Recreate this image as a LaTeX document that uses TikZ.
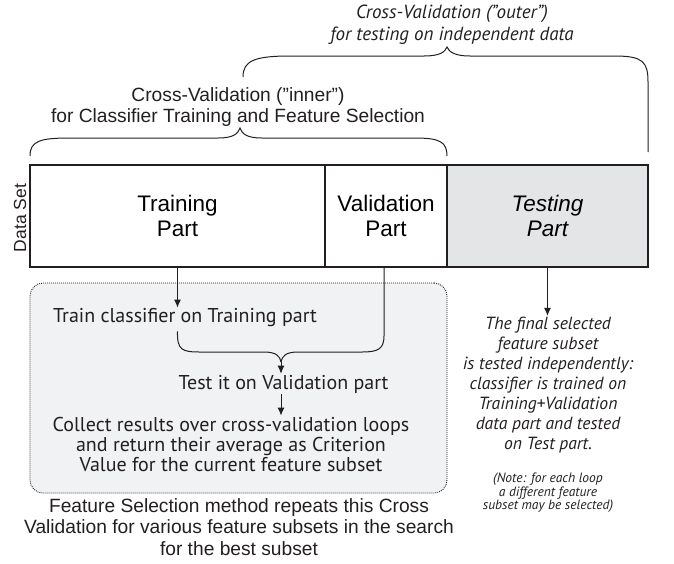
\documentclass[tikz,border=0pt]{standalone}
\usepackage{fontspec}
\setmainfont{Liberation Sans}
\newfontfamily\hum{PT Sans}
\usetikzlibrary{arrows.meta}
\definecolor{ink}{HTML}{231F20}
\definecolor{testfill}{HTML}{E4E5E7}
\definecolor{loopfill}{HTML}{F1F2F4}
\tikzset{
  x=1pt, y=-1pt,
  part/.style={draw=ink, line width=2.3pt, inner sep=0pt, minimum height=102pt,
    align=center, font=\fontsize{22.5}{25}\selectfont},
  arr/.style={draw=ink, line width=1pt, -{Latex[length=8pt,width=7pt]}},
  brace/.style={draw=ink, line width=1pt},
  plain/.style={draw=ink, line width=1pt},
  humtxt/.style={align=center, inner sep=1pt, text=ink, font=\hum\fontsize{20}{20}\selectfont},
  humit/.style={align=center, inner sep=1pt, text=ink, font=\hum\itshape\fontsize{17.6}{20}\selectfont},
  sanstxt/.style={align=center, inner sep=1pt, text=ink, font=\fontsize{19.2}{21.5}\selectfont},
  loopbox/.style={draw=ink, fill=loopfill, line width=0.9pt,
    dash pattern=on 0.9pt off 1.1pt, rounded corners=13pt,
    minimum width=417pt, minimum height=210pt, inner sep=0pt},
}
\begin{document}
\begin{tikzpicture}
\useasboundingbox (0,0) rectangle (674,563);

% the data set split into three parts
\node[part, minimum width=295pt] (train) at (177.5,216) {Training\\Part};
\node[part, minimum width=122pt] (val) at (386,216) {Validation\\Part};
\node[part, minimum width=201pt, fill=testfill, font=\itshape\fontsize{22.5}{25}\selectfont] (test) at (547.5,216) {Testing\\Part};
\node[rotate=90, inner sep=0pt, text=ink, font=\fontsize{17.5}{19}\selectfont] (dset) at (20,218) {Data Set};

% braces over the parts
\node[sanstxt] (innerLbl) at (238,107) {Cross-Validation (”inner”)\\for Classifier Training and Feature Selection};
\draw[brace] (30,156) .. controls (30,141) and (40,138) .. (70,138) -- (218,138)
  .. controls (233,138) and (238,134) .. (240,128)
  .. controls (242,134) and (247,138) .. (262,138) -- (415,138)
  .. controls (440,138) and (447,142) .. (447,156);

\node[humit, font=\hum\itshape\fontsize{19}{22}\selectfont] (outerLbl) at (452,25) {Cross-Validation (”outer”)\\for testing on independent data};
\draw[brace] (243,77) .. controls (243,61) and (254,56) .. (290,56) -- (424,56)
  .. controls (440,56) and (445,52) .. (447,47)
  .. controls (449,52) and (455,56) .. (470,56) -- (615,56)
  .. controls (643,56) and (648,62) .. (648,82) -- (648,152);

% inner cross-validation loop
\node[loopbox] (loop) at (238.5,388) {};
\node[humtxt, anchor=west] (trainTxt) at (52,318) {Train classifier on Training part};
\node[humtxt] (testTxt) at (283.5,384) {Test it on Validation part};
\node[humtxt] (collect) at (231,444) {Collect results over cross-validation loops\\and return their average as Criterion\\Value for the current feature subset};
\node[sanstxt] (fsNote) at (239,527) {Feature Selection method repeats this Cross\\Validation for various feature subsets in the search\\for the best subset};

\coordinate (merge) at (281,362);
\draw[arr] (train.south) -- (trainTxt.north -| train.south);
\draw[plain] ([yshift=-3pt]trainTxt.south -| train.south) .. controls (177,350) and (182,352) .. (200,352) -- (264,352)
  .. controls (276,352) and (280,356) .. (merge);
\draw[plain] (val.south -| 384,0) -- (384,336) .. controls (384,349) and (378,352) .. (362,352) -- (298,352)
  .. controls (286,352) and (282,356) .. (merge);
\draw[arr] (merge) -- (testTxt.north -| merge);
\draw[arr] (testTxt.south -| merge) -- (collect.north -| merge);

% independent test on the held-out part
\node[humit] (final) at (548,385) {The final selected\\feature subset\\is tested independently:\\classifier is trained on\\Training+Validation\\data part and tested\\on Test part.};
\node[humit, font=\hum\itshape\fontsize{13.5}{13.5}\selectfont] (note) at (548,493) {(Note: for each loop\\a different feature\\subset may be selected)};
\draw[arr] (test.south) -- (final.north -| test.south);
\end{tikzpicture}
\end{document}
